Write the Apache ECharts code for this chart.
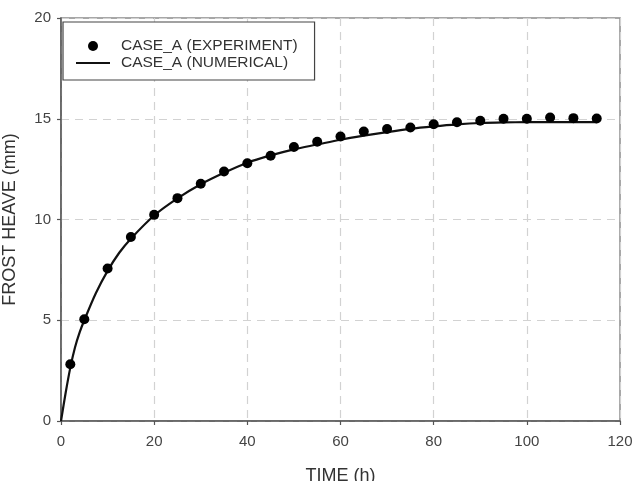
<!DOCTYPE html>
<html>
<head>
<meta charset="utf-8">
<script src="https://cdn.jsdelivr.net/npm/echarts@6/dist/echarts.min.js"></script>
<style>
  html, body { margin: 0; padding: 0; background: #fff; }
  #chart { width: 639px; height: 481px; }
</style>
</head>
<body>
<div id="chart"></div>
<script>
// experiment points
const expTime = [2, 5, 10, 15, 20, 25, 30, 35, 40, 45, 50, 55, 60, 65, 70, 75, 80, 85, 90, 95, 100, 105, 110, 115];
const expHeave = [2.82, 5.05, 7.57, 9.13, 10.23, 11.06, 11.77, 12.38, 12.79, 13.16, 13.6, 13.86, 14.12, 14.37, 14.49, 14.57, 14.73, 14.83, 14.9, 15.0, 15.0, 15.06, 15.03, 15.01];

// numerical curve
const numTime = [0, 1, 2, 3, 4, 5, 7.5, 10, 12.5, 15, 20, 25, 30, 35, 40, 45, 50, 55, 60, 65, 70, 75, 80, 85, 90, 95, 100, 105, 110, 115];
const numHeave = [0, 1.4, 2.65, 3.65, 4.4, 5.0, 6.35, 7.45, 8.35, 9.05, 10.2, 11.05, 11.75, 12.32, 12.82, 13.18, 13.48, 13.72, 13.96, 14.16, 14.34, 14.5, 14.62, 14.72, 14.79, 14.82, 14.83, 14.83, 14.83, 14.83];

const xTicks = [0, 20, 40, 60, 80, 100, 120];
const yTicks = [0, 5, 10, 15, 20];

const chart = echarts.init(document.getElementById('chart'));

const font = 'Liberation Sans, Arial, sans-serif';

const option = {
  backgroundColor: '#fff',
  animation: false,
  grid: {
    left: 61, right: 19, top: 18, bottom: 60,
    outerBoundsMode: 'none',
    show: true,
    borderColor: '#8a8a8a',
    borderWidth: 1.5
  },
  legend: {
    left: 63, top: 22,
    orient: 'vertical',
    padding: [16, 17, 9, 12],
    itemWidth: 34,
    itemHeight: 10,
    itemGap: 1,
    borderColor: '#444',
    borderWidth: 1.2,
    backgroundColor: '#fff',
    textStyle: { fontFamily: font, fontSize: 15.5, color: '#333', padding: [0, 0, 0, 6], lineHeight: 16 },
    data: [
      { name: 'CASE_A (EXPERIMENT)', icon: 'circle', itemStyle: { color: '#000', opacity: 1 } },
      { name: 'CASE_A (NUMERICAL)', itemStyle: { opacity: 0 } }
    ]
  },
  xAxis: {
    type: 'value',
    min: 0, max: 120, interval: 20,
    name: 'TIME (h)',
    nameLocation: 'middle',
    nameGap: 46,
    nameTextStyle: { fontFamily: font, fontSize: 18, color: '#333' },
    axisLine: { show: true, lineStyle: { color: '#555', width: 1.5 } },
    axisTick: { show: true, length: 4, lineStyle: { color: '#555', width: 1.2 } },
    axisLabel: {
      fontFamily: font, fontSize: 15, color: '#444', margin: 13,
      customValues: xTicks
    },
    splitLine: { show: true, lineStyle: { color: '#d2d2d2', type: [8, 6], width: 1.2 } }
  },
  yAxis: {
    type: 'value',
    min: 0, max: 20, interval: 5,
    name: 'FROST HEAVE (mm)',
    nameLocation: 'middle',
    nameGap: 42,
    nameTextStyle: { fontFamily: font, fontSize: 18, color: '#333' },
    axisLine: { show: true, lineStyle: { color: '#555', width: 1.5 } },
    axisTick: { show: true, length: 4, lineStyle: { color: '#555', width: 1.2 } },
    axisLabel: {
      fontFamily: font, fontSize: 15, color: '#444', margin: 10,
      customValues: yTicks
    },
    splitLine: { show: true, lineStyle: { color: '#d2d2d2', type: [8, 6], width: 1.2 } }
  },
  series: [
    {
      name: 'CASE_A (EXPERIMENT)',
      type: 'scatter',
      symbol: 'circle',
      symbolSize: 10,
      itemStyle: { color: '#000', opacity: 1 },
      z: 3,
      data: expTime.map((t, i) => [t, expHeave[i]])
    },
    {
      name: 'CASE_A (NUMERICAL)',
      type: 'line',
      smooth: 0.3,
      symbol: 'none',
      lineStyle: { color: '#111', width: 2.2 },
      itemStyle: { color: '#111' },
      z: 2,
      data: numTime.map((t, i) => [t, numHeave[i]])
    }
  ]
};

chart.setOption(option);
</script>
</body>
</html>
